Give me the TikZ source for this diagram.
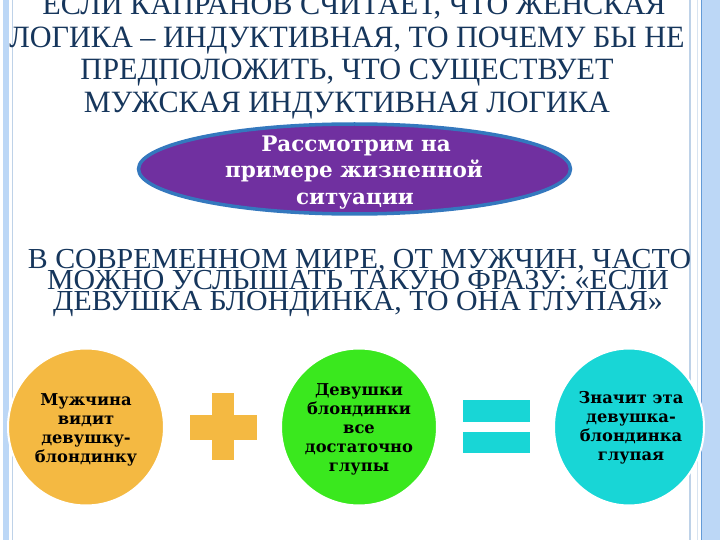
\documentclass[tikz,border=0pt]{standalone}
\usepackage{fontspec}
\setmainfont{Liberation Serif}
\newfontfamily\titlefont[FakeStretch=0.975]{Liberation Serif}
\newfontfamily\bodyfont[FakeStretch=1.03]{Liberation Serif}
\newfontfamily\boxfont{DejaVu Serif}
\usetikzlibrary{shapes.geometric}
\definecolor{navy}{RGB}{22,54,92}
\definecolor{purplefill}{RGB}{112,48,160}
\definecolor{ellborder}{RGB}{52,120,190}
\definecolor{orangefill}{RGB}{244,185,66}
\definecolor{greenfill}{RGB}{58,232,30}
\definecolor{cyanfill}{RGB}{24,214,214}
\definecolor{framefill}{RGB}{188,215,246}
\definecolor{frameline}{RGB}{100,155,215}
\definecolor{framethin}{RGB}{190,210,232}
\tikzset{
  titletxt/.style={anchor=base, inner sep=0, text=navy, font=\titlefont\fontsize{31}{31}\selectfont},
  bodytxt/.style={anchor=base, inner sep=0, text=navy, text height=19pt, text depth=1pt, font=\bodyfont\fontsize{29}{29}\selectfont},
  elltxt/.style={anchor=base, inner sep=0, text=white, font=\boxfont\bfseries\fontsize{21.5}{21.5}\selectfont},
  btxt/.style={anchor=base, inner sep=0, text=black, font=\boxfont\bfseries\fontsize{16.3}{16.3}\selectfont},
  blob/.style={ellipse, draw=white, line width=2pt, inner sep=0},
  bar/.style={inner sep=0, rectangle, draw=none}
}
\begin{document}
\begin{tikzpicture}[x=1pt,y=-1pt]
\useasboundingbox (0,0) rectangle (720,540);
% frame
\fill[framefill] (3,0) rectangle (9,540);
\draw[framethin, line width=1pt] (12.5,0) -- (12.5,540);
\draw[framethin, line width=1.2pt] (690,0) -- (690,540);
\draw[framethin!60, line width=1pt] (697,0) -- (697,540);
\fill[framefill] (702,0) rectangle (720,540);
\draw[frameline, line width=1.2pt] (701.5,0) -- (701.5,540);
% title
\node[titletxt] (t1) at (354,15) {ЕСЛИ КАПРАНОВ СЧИТАЕТ, ЧТО ЖЕНСКАЯ};
\node[titletxt] (t2) at (347,47.5) {ЛОГИКА – ИНДУКТИВНАЯ, ТО ПОЧЕМУ БЫ НЕ};
\node[titletxt] (t3) at (347,80) {ПРЕДПОЛОЖИТЬ, ЧТО СУЩЕСТВУЕТ};
\node[titletxt] (t4) at (347,112.5) {МУЖСКАЯ ИНДУКТИВНАЯ ЛОГИКА};
% purple ellipse
\node[ellipse, fill=purplefill, draw=ellborder, line width=3.5pt, minimum width=432pt, minimum height=90pt, inner sep=0] (e0) at (354.5,169) {};
\node[elltxt] (e1) at (356,152) {Рассмотрим на};
\node[elltxt] (e2) at (354,178) {примере жизненной};
\node[elltxt] (e3) at (355,205) {ситуации};
% body text
\node[bodytxt] (b1) at (359.5,268) {В СОВРЕМЕННОМ МИРЕ, ОТ МУЖЧИН, ЧАСТО};
\node[bodytxt] (b2) at (358,289) {МОЖНО УСЛЫШАТЬ ТАКУЮ ФРАЗУ: «ЕСЛИ};
\node[bodytxt] (b3) at (358,310) {ДЕВУШКА БЛОНДИНКА, ТО ОНА ГЛУПАЯ»};
% bottom ellipses
\node[blob, fill=orangefill, minimum width=156pt, minimum height=157pt] (c1) at (86,427) {};
\node[blob, fill=greenfill, minimum width=156pt, minimum height=157pt] (c2) at (359,427) {};
\node[blob, fill=cyanfill, minimum width=150pt, minimum height=157pt] (c3) at (629,427) {};
% plus
\node[bar, fill=orangefill, minimum width=67pt, minimum height=25pt] (p1) at (223.5,427.5) {};
\node[bar, fill=orangefill, minimum width=22pt, minimum height=67pt] (p2) at (223,426.5) {};
% equals
\node[bar, fill=cyanfill, minimum width=67pt, minimum height=22pt] (q1) at (496.5,411) {};
\node[bar, fill=cyanfill, minimum width=67pt, minimum height=21pt] (q2) at (496.5,442.5) {};
% texts
\foreach \txt [count=\i] in {Мужчина, видит, девушку-, блондинку}
  \node[btxt] (o\i) at (86,{386+19*\i}) {\txt};
\foreach \txt [count=\i] in {Девушки, блондинки, все, достаточно, глупы}
  \node[btxt] (g\i) at (359,{376+19*\i}) {\txt};
\foreach \txt [count=\i] in {Значит эта, девушка-, блондинка, глупая}
  \node[btxt] (z\i) at (631,{384+19*\i}) {\txt};
\end{tikzpicture}
\end{document}
